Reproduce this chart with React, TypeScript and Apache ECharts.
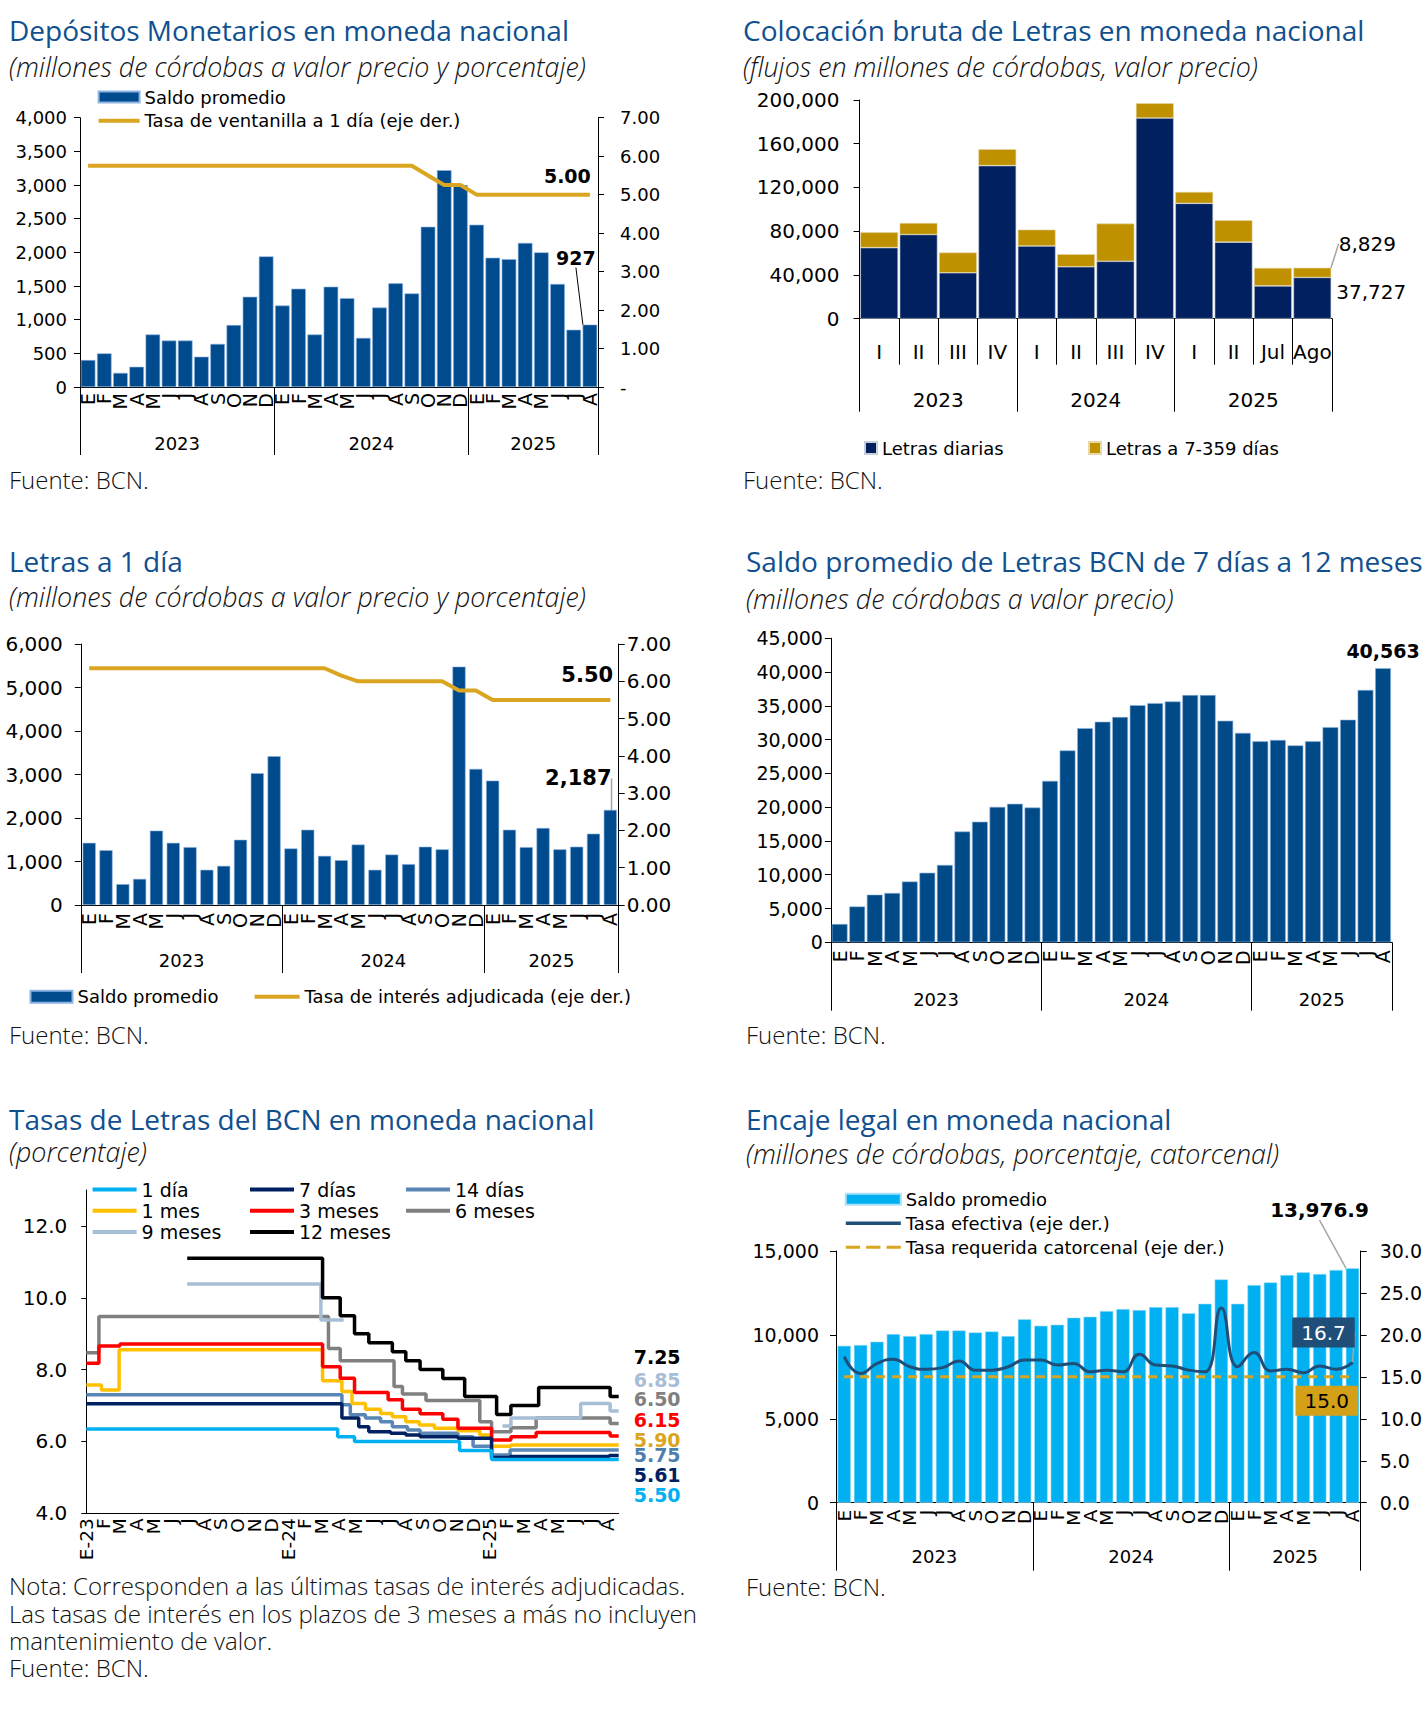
import React, { useEffect, useRef } from 'react';
import * as echarts from 'echarts';

const AX = 'DejaVu Sans';
const TF = 'Open Sans';
const TITLE_COLOR = '#10508F';
const GOLD = '#DAA520';
const BLUE_BAR = '#004B8D';

// ---------- shared category labels ----------
const MONTH_LETTERS = ['E', 'F', 'M', 'A', 'M', 'J', 'J', 'A', 'S', 'O', 'N', 'D'];
const monthCats = Array.from({ length: 32 }, (_, i) => MONTH_LETTERS[i % 12]);
const YEARS = ['2023', '2024', '2025'];
const YEAR_BOUNDS = [0, 12, 24, 32];
const YEAR_CENTERS = [6, 18, 28];

// ---------- Chart 1: Depósitos Monetarios ----------
const depositos = [400, 500, 210, 300, 780, 690, 690, 450, 640, 920, 1340, 1940, 1210, 1460, 780, 1490, 1320, 730, 1180, 1540, 1390, 2380, 3220, 3000, 2410, 1920, 1900, 2140, 2000, 1530, 850, 927];
const tasaVentanilla = [5.75, 5.75, 5.75, 5.75, 5.75, 5.75, 5.75, 5.75, 5.75, 5.75, 5.75, 5.75, 5.75, 5.75, 5.75, 5.75, 5.75, 5.75, 5.75, 5.75, 5.75, 5.5, 5.25, 5.25, 5.0, 5.0, 5.0, 5.0, 5.0, 5.0, 5.0, 5.0];

// ---------- Chart 2: Colocación bruta ----------
const periodos = ['I', 'II', 'III', 'IV', 'I', 'II', 'III', 'IV', 'I', 'II', 'Jul', 'Ago'];
const PERIOD_YEAR_BOUNDS = [0, 4, 8, 12];
const PERIOD_YEAR_CENTERS = [2, 6, 10];
const letrasDiarias = [65000, 77000, 42000, 140000, 66500, 47500, 52500, 183500, 105500, 70000, 30000, 37727];
const letras7a359 = [14000, 10500, 18500, 15000, 15000, 11500, 34500, 13500, 10500, 20000, 16500, 8829];

// ---------- Chart 3: Letras a 1 día ----------
const letras1dia = [1430, 1260, 480, 600, 1710, 1430, 1330, 810, 900, 1500, 3030, 3420, 1300, 1730, 1130, 1030, 1390, 810, 1160, 940, 1340, 1280, 5480, 3130, 2860, 1730, 1330, 1770, 1280, 1340, 1640, 2187];
const tasaAdjudicada = [6.35, 6.35, 6.35, 6.35, 6.35, 6.35, 6.35, 6.35, 6.35, 6.35, 6.35, 6.35, 6.35, 6.35, 6.35, 6.15, 6.0, 6.0, 6.0, 6.0, 6.0, 6.0, 5.75, 5.75, 5.5, 5.5, 5.5, 5.5, 5.5, 5.5, 5.5, 5.5];

// ---------- Chart 4: Saldo promedio Letras 7d-12m ----------
const saldoLetras = [2700, 5300, 7050, 7300, 9000, 10300, 11450, 16400, 17850, 20050, 20500, 19950, 23900, 28400, 31700, 32650, 33350, 35100, 35400, 35650, 36600, 36600, 32800, 31000, 29750, 29950, 29150, 29750, 31850, 32950, 37350, 40563];

// ---------- Chart 5: Tasas de Letras (step series, [month, %]) ----------
const rateMonthLabels = monthCats.map((m, i) => (i % 12 === 0 ? `E-${23 + i / 12}` : m));
const RATE_X_MAX = 31.66;
const RATE_Y_TICKS = [4, 6, 8, 10, 12];
const rate1dia = [[0, 6.35], [14.95, 6.13], [15.95, 6.0], [22.2, 5.75], [24.1, 5.5], [31.66, 5.5]];
const rate7dias = [[0, 7.05], [15.2, 6.65], [16.2, 6.41], [16.8, 6.27], [18.1, 6.23], [19.0, 6.18], [19.85, 6.13], [22.1, 6.09], [24.1, 5.55], [25.2, 5.58], [31.1, 5.61], [31.66, 5.61]];
const rate14dias = [[0, 7.3], [15.2, 7.02], [15.7, 6.74], [16.6, 6.65], [17.5, 6.55], [18.2, 6.41], [19.1, 6.32], [19.85, 6.23], [22.1, 6.13], [23.0, 5.87], [24.1, 5.62], [25.2, 5.76], [31.66, 5.75]];
const rate1mes = [[0, 7.57], [0.9, 7.43], [1.95, 8.55], [14.05, 7.69], [15.2, 7.39], [15.8, 7.06], [16.6, 6.9], [17.5, 6.78], [18.2, 6.69], [19.0, 6.55], [19.8, 6.46], [20.7, 6.37], [22.1, 6.3], [23.4, 6.18], [24.1, 5.87], [25.25, 5.9], [31.66, 5.9]];
const rate3meses = [[0, 8.18], [0.75, 8.66], [2.0, 8.71], [14.05, 8.08], [15.1, 7.76], [15.95, 7.36], [17.95, 7.16], [18.8, 6.9], [19.85, 6.77], [21.2, 6.62], [22.1, 6.37], [24.1, 6.04], [25.25, 6.13], [26.75, 6.25], [31.15, 6.15], [31.66, 6.15]];
const rate6meses = [[0, 8.47], [0.75, 9.48], [14.4, 8.59], [15.1, 8.25], [18.3, 7.53], [18.8, 7.32], [20.2, 7.14], [23.4, 6.55], [24.1, 6.27], [25.25, 6.38], [26.75, 6.65], [31.15, 6.5], [31.66, 6.5]];
const rate9meses = [[6.0, 10.38], [13.95, 9.38], [15.2, 9.38], [15.3, null], [24.75, 6.43], [25.25, 6.65], [29.4, 7.06], [31.15, 6.85], [31.66, 6.85]];
const rate12meses = [[6.0, 11.1], [14.05, 10.0], [15.1, 9.5], [15.95, 9.0], [16.8, 8.75], [18.2, 8.5], [19.0, 8.25], [19.85, 8.0], [21.2, 7.75], [22.5, 7.25], [24.4, 6.75], [25.25, 7.0], [26.9, 7.5], [31.15, 7.25], [31.66, 7.25]];

// ---------- Chart 6: Encaje legal ----------
const encajeSaldo = [9350, 9400, 9600, 10050, 9930, 10050, 10270, 10270, 10150, 10210, 9930, 10930, 10550, 10610, 11030, 11090, 11420, 11540, 11480, 11660, 11660, 11300, 11860, 13310, 11860, 12970, 13130, 13570, 13730, 13630, 13870, 13976.9];
const tasaEfectiva = [17.4, 15.4, 16.6, 17.1, 16.2, 15.9, 16.1, 16.9, 15.8, 15.8, 16.2, 17.0, 17.0, 16.4, 16.6, 15.6, 15.8, 15.6, 17.7, 16.4, 16.3, 15.8, 15.6, 23.2, 16.2, 17.9, 15.7, 15.9, 15.5, 16.3, 15.9, 16.7];
const tasaRequerida = [15, 15, 15, 15, 15, 15, 15, 15, 15, 15, 15, 15, 15, 15, 15, 15, 15, 15, 15, 15, 15, 15, 15, 15, 15, 15, 15, 15, 15, 15, 15, 15];

// ---------- helpers ----------
const fmtInt = (v: number) => Math.round(v).toLocaleString('en-US');
const lineIcon = (w: number, t: number) => `path://M0,0H${w}V${t}H0Z`;
const DASH_ICON = 'path://M0,0H14V3H0Z M20,0H34V3H20Z M40,0H54V3H40Z';

function txt(x: number, y: number, t: string, o: any = {}) {
  return {
    type: 'text', x, y, silent: true,
    style: {
      text: t, fill: o.color || '#000', fontSize: o.size || 22, fontFamily: o.family || TF,
      fontStyle: o.italic ? 'italic' : 'normal', fontWeight: o.weight || 300,
      align: 'left', verticalAlign: 'middle',
    },
  };
}
const title = (x: number, y: number, t: string) => txt(x, y, t, { size: 28, color: TITLE_COLOR, weight: 400 });
const subtitle = (x: number, y: number, t: string) => txt(x, y, t, { size: 26.8, italic: true, color: '#111' });
const note = (x: number, y: number, t: string) => txt(x, y, t, { size: 24, color: '#111' });

function monthAxis(data: string[], margin: number, fontSize = 19, gridIndex = 0) {
  return {
    type: 'category', gridIndex, data, position: 'bottom',
    axisLine: { show: true, onZero: false, lineStyle: { color: '#000', width: 1 } },
    axisTick: { show: false },
    axisLabel: { interval: 0, rotate: 90, margin, fontSize, lineHeight: 14, color: '#000', fontFamily: AX, hideOverlap: false },
  };
}

function groupAxis(max: number, bounds: number[], centers: number[], labels: string[], tickLen: number, margin: number, fontSize = 18) {
  return {
    type: 'value', gridIndex: 0, position: 'bottom', min: 0, max,
    axisLine: { show: false, onZero: false },
    splitLine: { show: false },
    axisTick: { show: true, customValues: bounds, length: tickLen, lineStyle: { color: '#000', width: 1 } },
    axisLabel: {
      show: true, customValues: centers, margin, fontSize, color: '#000', fontFamily: AX,
      formatter: (v: number) => labels[centers.indexOf(v)] ?? '',
    },
  };
}

function valAxis(min: number, max: number, interval: number, formatter: any, fontSize: number, margin: number, position = 'left') {
  return {
    type: 'value', gridIndex: 0, position, min, max, interval,
    axisLine: { show: true, onZero: false, lineStyle: { color: '#000', width: 1 } },
    axisTick: { show: true, length: 6, lineStyle: { color: '#000', width: 1 } },
    splitLine: { show: false },
    axisLabel: { formatter, fontSize, margin, color: '#000', fontFamily: AX },
  };
}

function lastLabel(values: number[], label: any, labelLine?: any, extra: any = {}) {
  return values.map((v, i) =>
    i === values.length - 1
      ? { value: v, ...extra, label: { show: true, ...label }, ...(labelLine ? { labelLine: { show: true, lineStyle: labelLine } } : {}) }
      : v
  );
}

const legendText = (size = 18, lh = 20) => ({ fontSize: size, lineHeight: lh, color: '#000', fontFamily: AX });

// ---------- options ----------
const LEG_A2 = 'Tasa de ventanilla a 1 día (eje der.)';
function optionA() {
  return {
    animation: false,
    textStyle: { fontFamily: AX },
    grid: [{ left: 80, top: 117.7, width: 518, height: 269.3 }],
    xAxis: [monthAxis(monthCats, 6), groupAxis(32, YEAR_BOUNDS, YEAR_CENTERS, YEARS, 68, 47)],
    yAxis: [
      valAxis(0, 4000, 500, fmtInt, 18, 13),
      valAxis(0, 7, 1, (v: number) => (v === 0 ? '-' : v.toFixed(2)), 18, 22, 'right'),
    ],
    legend: [{
      orient: 'vertical', left: 97.6, top: 87, padding: 0, itemWidth: 41, itemHeight: 11, itemGap: 3.7,
      selectedMode: false, textStyle: legendText(),
      data: [{ name: 'Saldo promedio', icon: 'rect' }, { name: LEG_A2, icon: lineIcon(41, 4) }],
    }],
    series: [
      {
        type: 'bar', name: 'Saldo promedio', xAxisIndex: 0, yAxisIndex: 0, barCategoryGap: '10%',
        itemStyle: { color: BLUE_BAR, borderColor: '#8DB4E2', borderWidth: 0.6 },
        data: lastLabel(depositos, { position: 'top', formatter: (p: any) => fmtInt(p.value), fontWeight: 'bold', fontSize: 19, color: '#000', fontFamily: AX }, { color: '#000', width: 1 }),
        labelLayout: { dx: -14, dy: -52 },
      },
      {
        type: 'line', name: LEG_A2, xAxisIndex: 0, yAxisIndex: 1, data: tasaVentanilla, symbol: 'none',
        lineStyle: { color: GOLD, width: 4 }, itemStyle: { color: GOLD },
        endLabel: { show: true, formatter: (p: any) => Number(p.value).toFixed(2), fontWeight: 'bold', fontSize: 19, color: '#000', offset: [-54, -19], fontFamily: AX },
      },
    ],
    graphic: [
      title(9, 30, 'Depósitos Monetarios en moneda nacional'),
      subtitle(9, 66, '(millones de córdobas a valor precio y porcentaje)'),
      note(9, 479, 'Fuente: BCN.'),
    ],
  };
}

function optionB() {
  return {
    animation: false,
    textStyle: { fontFamily: AX },
    grid: [{ left: 147.5, top: 100, width: 472.5, height: 218.7 }],
    xAxis: [
      {
        type: 'category', gridIndex: 0, data: periodos, position: 'bottom',
        axisLine: { show: true, onZero: false, lineStyle: { color: '#000', width: 1 } },
        axisTick: { show: true, length: 46, interval: 0, alignWithLabel: false, lineStyle: { color: '#000', width: 1 } },
        axisLabel: { interval: 0, margin: 23, fontSize: 20, color: '#000', fontFamily: AX },
      },
      groupAxis(12, PERIOD_YEAR_BOUNDS, PERIOD_YEAR_CENTERS, YEARS, 93, 71, 20),
    ],
    yAxis: [valAxis(0, 200000, 40000, fmtInt, 20, 20)],
    legend: [
      { left: 152, top: 438, padding: 0, itemWidth: 12, itemHeight: 12, selectedMode: false, textStyle: legendText(), data: [{ name: 'Letras diarias', icon: 'rect' }] },
      { left: 376, top: 438, padding: 0, itemWidth: 12, itemHeight: 12, selectedMode: false, textStyle: legendText(), data: [{ name: 'Letras a 7-359 días', icon: 'rect' }] },
    ],
    series: [
      {
        type: 'bar', name: 'Letras diarias', stack: 'total', xAxisIndex: 0, yAxisIndex: 0, barCategoryGap: '4%',
        itemStyle: { color: '#002060', borderColor: '#C9CED8', borderWidth: 0.6 },
        data: lastLabel(letrasDiarias, { position: 'right', offset: [0, -6], formatter: (p: any) => fmtInt(p.value), fontSize: 20, color: '#000', fontFamily: AX }),
      },
      {
        type: 'bar', name: 'Letras a 7-359 días', stack: 'total', xAxisIndex: 0, yAxisIndex: 0, barCategoryGap: '4%',
        itemStyle: { color: '#BF9000', borderColor: '#E6D8A8', borderWidth: 0.6 },
        data: lastLabel(letras7a359, { position: 'inside', formatter: (p: any) => fmtInt(p.value), fontSize: 20, color: '#000', fontFamily: AX }, { color: '#A6A6A6', width: 1.5 }),
        labelLayout: { dx: 55, dy: -29 },
      },
    ],
    graphic: [
      title(31, 30, 'Colocación bruta de Letras en moneda nacional'),
      subtitle(31, 66, '(flujos en millones de córdobas, valor precio)'),
      note(31, 479, 'Fuente: BCN.'),
    ],
  };
}

const LEG_C2 = 'Tasa de interés adjudicada (eje der.)';
function optionC() {
  return {
    animation: false,
    textStyle: { fontFamily: AX },
    grid: [{ left: 80.8, top: 144, width: 537.9, height: 261 }],
    xAxis: [monthAxis(monthCats, 8), groupAxis(32, YEAR_BOUNDS, YEAR_CENTERS, YEARS, 68, 46.7)],
    yAxis: [
      valAxis(0, 6000, 1000, fmtInt, 20, 18),
      valAxis(0, 7, 1, (v: number) => v.toFixed(2), 20, 8, 'right'),
    ],
    legend: [
      { left: 29.5, top: 486.7, padding: 0, itemWidth: 42, itemHeight: 12, selectedMode: false, textStyle: legendText(), data: [{ name: 'Saldo promedio', icon: 'rect' }] },
      { left: 254.6, top: 486.7, padding: 0, itemWidth: 45, itemHeight: 12, selectedMode: false, textStyle: legendText(), data: [{ name: LEG_C2, icon: lineIcon(45, 4) }] },
    ],
    series: [
      {
        type: 'bar', name: 'Saldo promedio', xAxisIndex: 0, yAxisIndex: 0, barCategoryGap: '22%',
        itemStyle: { color: BLUE_BAR, borderColor: '#8DB4E2', borderWidth: 0.6 },
        data: lastLabel(letras1dia, { position: 'top', formatter: (p: any) => fmtInt(p.value), fontWeight: 'bold', fontSize: 21, color: '#000', fontFamily: AX }, { color: '#A6A6A6', width: 1.5 }),
        labelLayout: { dx: -32, dy: -16 },
      },
      {
        type: 'line', name: LEG_C2, xAxisIndex: 0, yAxisIndex: 1, data: tasaAdjudicada, symbol: 'none',
        lineStyle: { color: GOLD, width: 4 }, itemStyle: { color: GOLD },
        endLabel: { show: true, formatter: (p: any) => Number(p.value).toFixed(2), fontWeight: 'bold', fontSize: 21, color: '#000', offset: [-57, -25], fontFamily: AX },
      },
    ],
    graphic: [
      title(9, 61, 'Letras a 1 día'),
      subtitle(9, 96, '(millones de córdobas a valor precio y porcentaje)'),
      note(9, 534, 'Fuente: BCN.'),
    ],
  };
}

function optionD() {
  return {
    animation: false,
    textStyle: { fontFamily: AX },
    grid: [{ left: 118.9, top: 138.3, width: 560.9, height: 304 }],
    xAxis: [monthAxis(monthCats, 8), groupAxis(32, YEAR_BOUNDS, YEAR_CENTERS, YEARS, 68.4, 48)],
    yAxis: [valAxis(0, 45000, 5000, fmtInt, 19, 8)],
    series: [
      {
        type: 'bar', name: 'Saldo promedio', xAxisIndex: 0, yAxisIndex: 0, barCategoryGap: '10%',
        itemStyle: { color: '#004A87', borderColor: '#8DB4E2', borderWidth: 0.6 },
        data: lastLabel(saldoLetras, { position: 'top', distance: 8, formatter: (p: any) => fmtInt(p.value), fontWeight: 'bold', fontSize: 19, color: '#000', fontFamily: AX }),
      },
    ],
    graphic: [
      title(34, 61, 'Saldo promedio de Letras BCN de 7 días a 12 meses'),
      subtitle(34, 98, '(millones de córdobas a valor precio)'),
      note(34, 534, 'Fuente: BCN.'),
    ],
  };
}

const RATE_SERIES = [
  { name: '6 meses', color: '#808080', data: rate6meses, dy: -24.6 },
  { name: '9 meses', color: '#A6BED6', data: rate9meses, dy: -31 },
  { name: '12 meses', color: '#000000', data: rate12meses, dy: -40 },
  { name: '14 días', color: '#5A86B5', data: rate14dias, dy: 5, labelColor: '#4F7FB0' },
  { name: '1 mes', color: '#FFC000', data: rate1mes, dy: -5, labelColor: '#DAA520' },
  { name: '3 meses', color: '#FF0000', data: rate3meses, dy: -16 },
  { name: '7 días', color: '#002060', data: rate7dias, dy: 19.5 },
  { name: '1 día', color: '#00B0F0', data: rate1dia, dy: 35.5 },
];

function optionE() {
  const legendBase = {
    orient: 'vertical', top: 120, padding: 0, itemWidth: 44, itemHeight: 14, itemGap: 2.3, selectedMode: false,
    textStyle: legendText(19, 19),
  };
  const icon = (n: string) => ({ name: n, icon: lineIcon(44, 4) });
  const plotW = 532.4;
  return {
    animation: false,
    textStyle: { fontFamily: AX },
    grid: [
      { left: 86.3, top: 130, width: plotW, height: 323.3 },
      // label grid: month starts 0..31 spread over the same pixels as the value axis
      { left: 86.3, top: 130, width: (plotW * 31) / RATE_X_MAX, height: 323.3 },
    ],
    xAxis: [
      {
        type: 'value', gridIndex: 0, min: 0, max: RATE_X_MAX,
        axisLine: { show: true, onZero: false, lineStyle: { color: '#000', width: 1 } },
        axisTick: { show: false }, splitLine: { show: false }, axisLabel: { show: false },
      },
      {
        type: 'category', gridIndex: 1, data: rateMonthLabels, boundaryGap: false, position: 'bottom',
        axisLine: { show: false }, axisTick: { show: false }, splitLine: { show: false },
        axisLabel: { interval: 0, rotate: 90, fontSize: 18.5, lineHeight: 14, margin: 5, color: '#000', fontFamily: AX, hideOverlap: false },
      },
    ],
    yAxis: [
      {
        type: 'value', gridIndex: 0, min: 4, max: 13, interval: 1,
        axisLine: { show: true, onZero: false, lineStyle: { color: '#000', width: 1 } },
        axisTick: { show: true, length: 5, customValues: RATE_Y_TICKS, lineStyle: { color: '#000' } },
        splitLine: { show: false },
        axisLabel: { customValues: RATE_Y_TICKS, formatter: (v: number) => v.toFixed(1), fontSize: 20, margin: 19, color: '#000', fontFamily: AX },
      },
      { type: 'value', gridIndex: 1, show: false, min: 0, max: 1 },
    ],
    legend: [
      { ...legendBase, left: 92.6, data: ['1 día', '1 mes', '9 meses'].map(icon) },
      { ...legendBase, left: 250, data: ['7 días', '3 meses', '12 meses'].map(icon) },
      { ...legendBase, left: 406, data: ['14 días', '6 meses'].map(icon) },
    ],
    series: RATE_SERIES.map((s) => ({
      type: 'line', name: s.name, xAxisIndex: 0, yAxisIndex: 0, step: 'end', symbol: 'none',
      data: s.data, lineStyle: { color: s.color, width: 3.5 }, itemStyle: { color: s.color },
      endLabel: {
        show: true, formatter: (p: any) => Number(p.value[1]).toFixed(2), offset: [7, s.dy],
        color: s.labelColor || s.color, fontWeight: 'bold', fontSize: 19, lineHeight: 15, fontFamily: AX,
      },
    })),
    graphic: [
      title(9, 58.5, 'Tasas de Letras del BCN en moneda nacional'),
      subtitle(9, 91, '(porcentaje)'),
      note(9, 525, 'Nota: Corresponden a las últimas tasas de interés adjudicadas.'),
      note(9, 553, 'Las tasas de interés en los plazos de 3 meses a más no incluyen'),
      note(9, 580, 'mantenimiento de valor.'),
      note(9, 607, 'Fuente: BCN.'),
    ],
  };
}

const LEG_F2 = 'Tasa efectiva (eje der.)';
const LEG_F3 = 'Tasa requerida catorcenal (eje der.)';
function optionF() {
  return {
    animation: false,
    textStyle: { fontFamily: AX },
    grid: [{ left: 124, top: 191, width: 526.5, height: 251.7 }],
    xAxis: [monthAxis(monthCats, 7, 18.5), groupAxis(32, YEAR_BOUNDS, YEAR_CENTERS, YEARS, 68, 45)],
    yAxis: [
      valAxis(0, 15000, 5000, fmtInt, 19, 17),
      valAxis(0, 30, 5, (v: number) => v.toFixed(1), 19, 19, 'right'),
    ],
    legend: [{
      orient: 'vertical', left: 132.8, top: 129.3, padding: 0, itemWidth: 55, itemHeight: 11, itemGap: 4,
      selectedMode: false, textStyle: legendText(),
      data: [{ name: 'Saldo promedio', icon: 'rect' }, { name: LEG_F2, icon: lineIcon(55, 3.5) }, { name: LEG_F3, icon: DASH_ICON }],
    }],
    series: [
      {
        type: 'bar', name: 'Saldo promedio', xAxisIndex: 0, yAxisIndex: 0, barCategoryGap: '18%',
        itemStyle: { color: '#00B0F0', borderColor: '#A8E2FA', borderWidth: 0.6 },
        data: lastLabel(encajeSaldo, {
          position: 'top', fontWeight: 'bold', fontSize: 20, color: '#000', fontFamily: AX,
          formatter: (p: any) => Number(p.value).toLocaleString('en-US', { minimumFractionDigits: 1, maximumFractionDigits: 1 }),
        }, { color: '#A6A6A6', width: 1.5 }),
        labelLayout: { dx: -33, dy: -43 },
      },
      {
        type: 'line', name: LEG_F2, xAxisIndex: 0, yAxisIndex: 1, symbol: 'none', smooth: 0.5,
        lineStyle: { color: '#1F4E79', width: 3 }, itemStyle: { color: '#1F4E79' },
        data: lastLabel(tasaEfectiva, {
          position: 'inside', formatter: (p: any) => Number(p.value).toFixed(1),
          color: '#fff', backgroundColor: '#1F4E79', padding: [5, 9], fontSize: 20, fontFamily: AX,
        }, { color: '#A6A6A6', width: 1.5 }, { symbol: 'circle', symbolSize: 1 }),
        labelLayout: { dx: -29, dy: -30 },
      },
      {
        type: 'line', name: LEG_F3, xAxisIndex: 0, yAxisIndex: 1, data: tasaRequerida, symbol: 'none',
        lineStyle: { color: GOLD, width: 3, type: [9, 7] }, itemStyle: { color: GOLD },
        endLabel: {
          show: true, formatter: (p: any) => Number(p.value).toFixed(1), offset: [-65, 24],
          color: '#000', backgroundColor: '#D4A017', padding: [5, 9], fontSize: 20, fontFamily: AX,
        },
      },
    ],
    graphic: [
      title(34, 58.5, 'Encaje legal en moneda nacional'),
      subtitle(34, 93, '(millones de córdobas, porcentaje, catorcenal)'),
      note(34, 526, 'Fuente: BCN.'),
    ],
  };
}

function Panel({ left, top, width, height, build }: any) {
  const ref = useRef<HTMLDivElement>(null);
  useEffect(() => {
    if (!ref.current) return;
    const chart = echarts.init(ref.current, undefined, { renderer: 'svg' });
    chart.setOption(build());
    return () => chart.dispose();
  }, []);
  return <div ref={ref} style={{ position: 'absolute', left, top, width, height }} />;
}

export default function App() {
  return (
    <div style={{ position: 'absolute', left: 0, top: 0, width: 1425, height: 1718, background: '#fff', overflow: 'hidden' }}>
      <Panel left={0} top={0} width={712} height={500} build={optionA} />
      <Panel left={712} top={0} width={713} height={500} build={optionB} />
      <Panel left={0} top={500} width={712} height={560} build={optionC} />
      <Panel left={712} top={500} width={713} height={560} build={optionD} />
      <Panel left={0} top={1060} width={712} height={658} build={optionE} />
      <Panel left={712} top={1060} width={713} height={658} build={optionF} />
    </div>
  );
}
